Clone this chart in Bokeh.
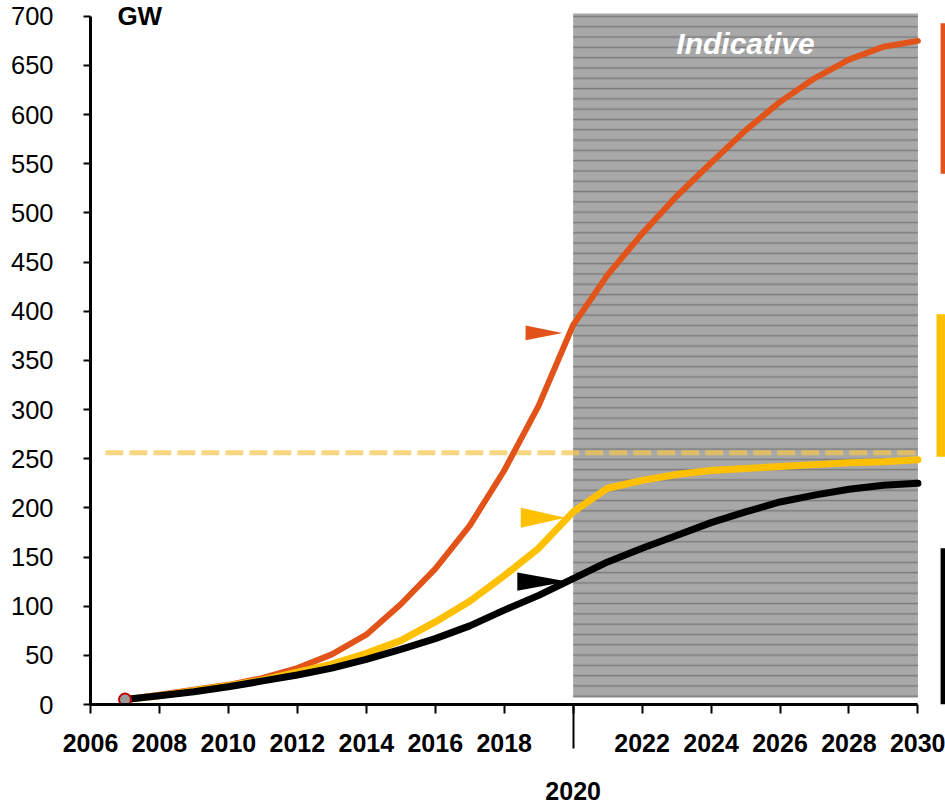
from bokeh.plotting import figure
from bokeh.models import FixedTicker, LinearAxis, Range1d
from bokeh.embed import file_html
from bokeh.resources import INLINE
from bokeh.core.properties import value

# ---- data ----
years = list(range(2007, 2031))
orange_gw = [5, 10, 15, 20, 27, 37, 51, 71, 102, 138, 182, 238, 304, 386,
             437, 479, 517, 551, 584, 613, 637, 656, 669, 675]
yellow_gw = [5, 9, 14, 19, 25, 33, 41, 52, 65, 84, 105, 131, 159, 196,
             220, 228, 234, 238, 240, 242, 244, 246, 247, 249]
black_gw = [5, 9, 13, 18, 24, 30, 37, 46, 56, 67, 80, 96, 111, 128,
            145, 159, 172, 185, 196, 206, 213, 219, 223, 225]
target_gw = 256
x_ticks = list(range(2006, 2031, 2))
y_ticks = list(range(0, 701, 50))
indicative_start, indicative_end = 2020, 2030
range_low = [540, 252, 0]
range_high = [693, 397, 159]
arrow_value = [378, 190, 125]
arrow_tip_year = [2019.69, 2019.78, 2019.83]

ORANGE = "#E2531A"
YELLOW = "#FFC000"
BLACK = "#000000"
FONT = "Liberation Sans"
series_colors = [ORANGE, YELLOW, BLACK]

p = figure(width=945, height=806, x_range=Range1d(2006, 2030.8),
           y_range=Range1d(0, 710), output_backend="svg",
           toolbar_location=None, min_border_left=90, min_border_right=0,
           min_border_top=6, min_border_bottom=102)
p.xgrid.visible = False
p.ygrid.visible = False
p.outline_line_color = None
p.background_fill_color = "white"

# indicative shaded area
p.quad(left=[indicative_start], right=[indicative_end], bottom=[7], top=[703],
       fill_color="#A8A8A8", line_color=None,
       hatch_pattern="horizontal_line", hatch_color="#7C7C7C",
       hatch_scale=10.3, hatch_weight=1.5)

# dashed target line
p.line(x=[2006.43, 2030], y=[target_gw, target_gw], line_color="#F7C64A",
       line_alpha=0.7, line_width=5, line_dash="18 6")

# curves
p.line(years, orange_gw, line_color=ORANGE, line_width=6, line_join="round", line_cap="round")
p.line(years, yellow_gw, line_color=YELLOW, line_width=7, line_join="round", line_cap="round")
p.line(years, black_gw, line_color=BLACK, line_width=7, line_join="round", line_cap="round")

# start point
p.scatter(x=[years[0]], y=[black_gw[0]], size=12, marker="circle",
          fill_color="#9A9A9A", line_color="#C00000", line_width=2)

# arrow heads (triangles pointing right)
arrow_len = [1.07, 1.30, 1.45]     # years
arrow_half = [7.6, 10.2, 9.2]      # GW
xs, ys = [], []
for tip, v, L, h in zip(arrow_tip_year, arrow_value, arrow_len, arrow_half):
    xs.append([tip - L, tip - L, tip])
    ys.append([v + h, v - h, v])
p.patches(xs, ys, fill_color=series_colors, line_color=None)

# right range bars
bar_x = [2030.73, 2030.67, 2030.73]
p.segment(x0=bar_x, x1=bar_x, y0=range_low, y1=range_high,
          line_color=series_colors, line_width=[5, 9, 5], line_cap="butt")

# texts
p.text(x=[2025], y=[672], text=["Indicative"], text_font=value(FONT),
       text_font_style="bold italic", text_font_size="30px", text_color="white",
       text_align="center", text_baseline="middle")
p.text(x=[2006.78], y=[700], text=["GW"], text_font=value(FONT),
       text_font_style="bold", text_font_size="26px", text_color="black",
       text_align="left", text_baseline="middle")

# x axis
xa = p.xaxis[0]
xa.ticker = FixedTicker(ticks=x_ticks, minor_ticks=[2020])
xa.major_label_overrides = {2020: ""}
xa.bounds = (2006, 2030)
xa.axis_line_width = 3
xa.axis_line_color = "black"
xa.major_tick_line_width = 2
xa.minor_tick_line_width = 2
xa.major_tick_out = 9
xa.major_tick_in = 0
xa.minor_tick_out = 44
xa.minor_tick_in = 0
xa.major_label_text_font = FONT
xa.major_label_text_font_size = "25px"
xa.major_label_text_font_style = "bold"
xa.major_label_text_color = "black"
xa.major_label_standoff = -15

ax2 = LinearAxis(ticker=FixedTicker(ticks=[2020]), axis_line_color=None,
                 major_tick_line_color=None, minor_tick_line_color=None,
                 major_tick_out=0, major_tick_in=0, minor_tick_out=0,
                 major_label_standoff=27, major_label_text_font=FONT,
                 major_label_text_font_size="25px",
                 major_label_text_font_style="bold",
                 major_label_text_color="black")
p.add_layout(ax2, "below")

# y axis
ya = p.yaxis[0]
ya.ticker = FixedTicker(ticks=y_ticks)
ya.bounds = (0, 700)
ya.axis_line_width = 3
ya.major_tick_line_width = 2
ya.major_tick_out = 7
ya.major_tick_in = 0
ya.minor_tick_line_color = None
ya.major_label_text_font = FONT
ya.major_label_text_font_size = "25.5px"
ya.major_label_text_color = "black"
ya.major_label_standoff = 30

open("out.html", "w").write(file_html(p, INLINE))
